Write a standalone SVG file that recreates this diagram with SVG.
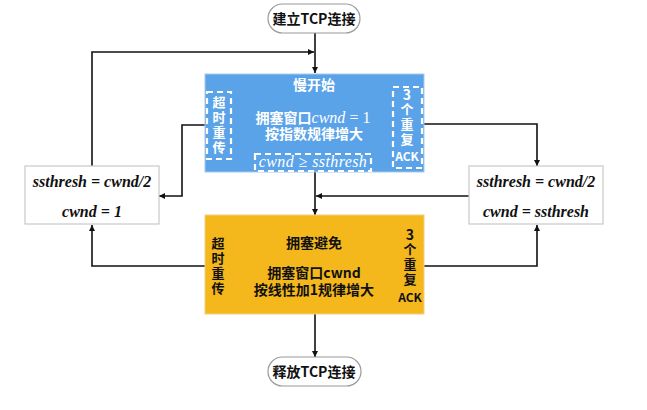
<svg xmlns="http://www.w3.org/2000/svg" width="647" height="410" viewBox="0 0 647 410">
<style>
.cn{font-family:"Noto Sans CJK SC","Noto Sans",sans-serif;font-weight:bold;font-size:14px;text-anchor:middle}
.v{font-size:13px}
.w{fill:#ffffff}
.k{fill:#111111}
.m{font-family:"Liberation Serif","DejaVu Serif",serif;font-size:16px;text-anchor:middle}
.mb{font-weight:bold;font-style:italic;fill:#111}
.dash{fill:none;stroke:#ffffff;stroke-width:2.2;stroke-dasharray:6 4}
.line{fill:none;stroke:#111;stroke-width:1.6}
.term{fill:#fff;stroke:#9a9a9a;stroke-width:1.2}
.box{fill:#fff;stroke:#c8c8c8;stroke-width:1.2}
</style>
<defs>
<marker id="ah" viewBox="0 0 8 8" refX="8" refY="4" markerWidth="6" markerHeight="6" orient="auto" markerUnits="userSpaceOnUse">
<path d="M0,0 L8,4 L0,8 z" fill="#111"/>
</marker>
</defs>
<g id="connectors">
<line class="line" x1="315" y1="33" x2="315" y2="73" marker-end="url(#ah)"/>
<line class="line" x1="315" y1="172" x2="315" y2="215" marker-end="url(#ah)"/>
<line class="line" x1="315" y1="314" x2="315" y2="357" marker-end="url(#ah)"/>
<polyline class="line" points="92,166 92,52 314,52" marker-end="url(#ah)"/>
<polyline class="line" points="205,125 182,125 182,196 159,196" marker-end="url(#ah)"/>
<polyline class="line" points="205,266 92,266 92,225" marker-end="url(#ah)"/>
<polyline class="line" points="424,124 537,124 537,166" marker-end="url(#ah)"/>
<polyline class="line" points="424,266 537,266 537,225" marker-end="url(#ah)"/>
<line class="line" x1="469" y1="196" x2="316" y2="196" marker-end="url(#ah)"/>
</g>
<g id="start">
<rect class="term" x="268" y="4" width="92" height="29" rx="14.5"/>
<text class="cn k" x="314" y="24">建立TCP连接</text>
</g>
<g id="slowstart">
<rect x="205" y="74" width="219" height="98" fill="#5BA3E8" stroke="#a9c8ec" stroke-width="1"/>
<text class="cn w" x="314" y="90">慢开始</text>
<text class="cn w" x="313" y="123">拥塞窗口<tspan font-family="Liberation Serif,serif" font-style="italic" font-weight="normal" font-size="16">cwnd</tspan><tspan font-family="Liberation Serif,serif" font-weight="normal" font-size="16"> = 1</tspan></text>
<text class="cn w" x="314" y="139">按指数规律增大</text>
<rect class="dash" x="207" y="92" width="24" height="67"/>
<text class="cn v w" x="219" y="107">超<tspan x="219" dy="15">时</tspan><tspan x="219" dy="15">重</tspan><tspan x="219" dy="15">传</tspan></text>
<rect class="dash" x="393" y="87" width="29" height="81"/>
<text class="cn w" x="407" y="100" font-size="12">3<tspan x="407" dy="14" font-size="13">个</tspan><tspan x="407" dy="15" font-size="13">重</tspan><tspan x="407" dy="15" font-size="13">复</tspan><tspan x="407" dy="17" font-size="12">ACK</tspan></text>
<rect class="dash" x="255" y="154" width="116" height="17"/>
<text class="m w" x="313" y="167" font-style="italic" letter-spacing="0.4">cwnd ≥ ssthresh</text>
</g>
<g id="leftbox">
<rect class="box" x="25" y="166" width="134" height="58"/>
<text class="m mb" x="92" y="187">ssthresh = cwnd/2</text>
<text class="m mb" x="92" y="217">cwnd = 1</text>
</g>
<g id="rightbox">
<rect class="box" x="469" y="166" width="134" height="58"/>
<text class="m mb" x="536" y="187">ssthresh = cwnd/2</text>
<text class="m mb" x="536" y="217">cwnd = ssthresh</text>
</g>
<g id="avoid">
<rect x="205" y="215" width="219" height="99" fill="#F4B81C" stroke="#f2cf7e" stroke-width="1"/>
<text class="cn k" x="314" y="248">拥塞避免</text>
<text class="cn k" x="314" y="278">拥塞窗口cwnd</text>
<text class="cn k" x="314" y="295">按线性加1规律增大</text>
<text class="cn v k" x="218" y="248">超<tspan x="218" dy="15">时</tspan><tspan x="218" dy="15">重</tspan><tspan x="218" dy="15">传</tspan></text>
<text class="cn k" x="410" y="240" font-size="12">3<tspan x="410" dy="14" font-size="13">个</tspan><tspan x="410" dy="15" font-size="13">重</tspan><tspan x="410" dy="15" font-size="13">复</tspan><tspan x="410" dy="18" font-size="12">ACK</tspan></text>
</g>
<g id="end">
<rect class="term" x="268" y="357" width="93" height="29" rx="14.5"/>
<text class="cn k" x="314" y="377">释放TCP连接</text>
</g>
</svg>
